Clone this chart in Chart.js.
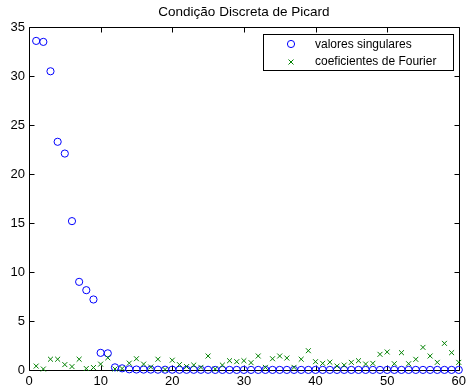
<!DOCTYPE html>
<html><head><meta charset="utf-8">
<script src="https://cdn.jsdelivr.net/npm/chart.js@4/dist/chart.umd.min.js"></script>
<style>html,body{margin:0;padding:0;background:#fff}#wrap{width:470px;height:391px}</style>
</head><body><div id="wrap"><canvas id="c"></canvas></div>
<script>
const titleText = 'Condição Discreta de Picard';
const seriesNames = ['valores singulares', 'coeficientes de Fourier'];
const indices = [1,2,3,4,5,6,7,8,9,10,11,12,13,14,15,16,17,18,19,20,21,22,23,24,25,26,27,28,29,30,31,32,33,34,35,36,37,38,39,40,41,42,43,44,45,46,47,48,49,50,51,52,53,54,55,56,57,58,59,60];
const singularValues = [33.6,33.5,30.5,23.3,22.1,15.2,9.0,8.15,7.2,1.75,1.7,0.27,0.17,0.07,0.05,0.04,0.04,0.03,0.03,0.03,0.02,0.02,0.02,0.02,0.02,0.01,0.01,0.01,0.01,0.01,0.01,0.01,0.01,0.01,0.01,0.01,0.01,0.01,0.01,0.01,0.01,0.01,0.01,0.01,0.01,0.01,0.01,0.01,0.01,0.01,0.01,0.01,0.01,0.01,0.01,0.01,0.01,0.01,0.01,0.01];
const fourierCoefs = [0.4,0.1,1.1,1.1,0.55,0.35,1.1,0.15,0.25,0.6,1.25,0.1,0.15,0.7,1.15,0.6,0.3,1.1,0.05,1.0,0.55,0.35,0.5,0.27,1.43,0.1,0.5,0.95,0.85,0.95,0.75,1.43,0.27,1.15,1.43,1.22,0.27,1.1,1.97,0.85,0.68,0.8,0.4,0.5,0.78,0.95,0.61,0.68,1.6,1.84,0.64,1.77,0.64,1.09,2.31,1.43,0.78,2.72,1.77,0.78];
const xTicks = [0,10,20,30,40,50,60];
const yTicks = [0,5,10,15,20,25,30,35];

const FONT = 'Liberation Sans, Arial, Helvetica, sans-serif';
const BLUE = '#0000ff';
const GREEN = '#008000';

const boxPlugin = {
  id: 'matlabBox',
  beforeDatasetsDraw(chart) {
    const {ctx, chartArea: a, scales} = chart;
    ctx.save();
    ctx.strokeStyle = '#000';
    ctx.lineWidth = 1;
    ctx.beginPath();
    const L = Math.round(a.left)+0.5, R = Math.round(a.right)+0.5, T = Math.round(a.top)+0.5, B = Math.round(a.bottom)+0.5;
    ctx.rect(L, T, R-L, B-T);
    const tl = 5;
    xTicks.forEach(v => {
      const px = Math.round(scales.x.getPixelForValue(v))+0.5;
      ctx.moveTo(px, B); ctx.lineTo(px, B-tl);
      ctx.moveTo(px, T); ctx.lineTo(px, T+tl);
    });
    yTicks.forEach(v => {
      const py = Math.round(scales.y.getPixelForValue(v))+0.5;
      ctx.moveTo(L, py); ctx.lineTo(L+tl, py);
      ctx.moveTo(R, py); ctx.lineTo(R-tl, py);
    });
    ctx.stroke();
    ctx.restore();
  },
  afterDraw(chart) {
    const {ctx} = chart;
    ctx.save();
    const bx = 263.5, by = 34.5, bw = 190, bh = 36;
    ctx.fillStyle = '#fff';
    ctx.fillRect(bx, by, bw, bh);
    ctx.strokeStyle = '#000';
    ctx.lineWidth = 1;
    ctx.strokeRect(bx, by, bw, bh);
    ctx.strokeStyle = BLUE;
    ctx.beginPath(); ctx.arc(291, 44, 3.6, 0, Math.PI*2); ctx.stroke();
    ctx.strokeStyle = GREEN;
    ctx.beginPath();
    ctx.moveTo(288.5, 59.5); ctx.lineTo(293.5, 64.5);
    ctx.moveTo(293.5, 59.5); ctx.lineTo(288.5, 64.5);
    ctx.stroke();
    ctx.fillStyle = '#000';
    ctx.font = '12px ' + FONT;
    ctx.textBaseline = 'middle';
    ctx.textAlign = 'left';
    ctx.fillText(seriesNames[0], 315, 45);
    ctx.fillText(seriesNames[1], 315, 62);
    ctx.restore();
  }
};

const toPts = arr => arr.map((v,i) => ({x: indices[i], y: v}));

new Chart(document.getElementById('c'), {
  type: 'scatter',
  data: {
    datasets: [
      {label: seriesNames[0], data: toPts(singularValues), pointStyle: 'circle', pointRadius: 3.6,
       borderColor: BLUE, backgroundColor: 'rgba(0,0,0,0)', borderWidth: 1, clip: false, order: 2},
      {label: seriesNames[1], data: toPts(fourierCoefs), pointStyle: 'crossRot', pointRadius: 3.5,
       borderColor: GREEN, backgroundColor: GREEN, borderWidth: 1, clip: false, order: 1}
    ]
  },
  options: {
    responsive: true, maintainAspectRatio: false, animation: false,
    layout: {padding: {left: 0, right: 7, top: 0, bottom: 0}},
    plugins: {
      legend: {display: false},
      tooltip: {enabled: false},
      title: {display: true, text: titleText, color: '#000', fullSize: false,
        font: {family: FONT, size: 13.5, weight: 'normal'}, padding: {top: 4, bottom: 7}}
    },
    scales: {
      x: {type: 'linear', min: 0, max: 60,
        afterBuildTicks: s => { s.ticks = xTicks.map(v => ({value: v})); },
        afterFit: s => { s.height = 21; },
        grid: {display: false, drawTicks: false}, border: {display: false},
        ticks: {color: '#000', font: {family: FONT, size: 13}, padding: 4, maxRotation: 0}},
      y: {type: 'linear', min: 0, max: 35,
        afterBuildTicks: s => { s.ticks = yTicks.map(v => ({value: v})); },
        afterFit: s => { s.width = 29; },
        grid: {display: false, drawTicks: false}, border: {display: false},
        ticks: {color: '#000', font: {family: FONT, size: 13}, padding: 4}}
    }
  },
  plugins: [boxPlugin]
});
</script>
</body></html>
